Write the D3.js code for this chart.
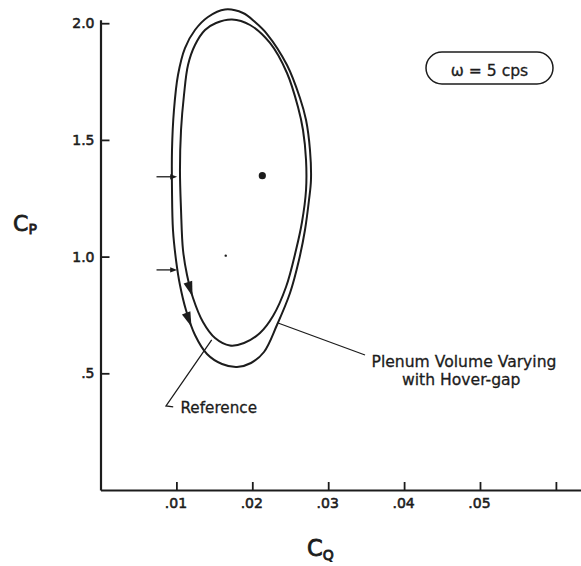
<!DOCTYPE html>
<html>
<head>
<meta charset="utf-8">
<script src="https://cdn.jsdelivr.net/npm/d3@7"></script>
<style>
  html, body { margin: 0; padding: 0; background: #fff; }
  svg { display: block; }
  text { font-family: "DejaVu Sans", "Liberation Sans", sans-serif; fill: #1c1c1c; }
</style>
</head>
<body>
<svg id="chart" width="581" height="566"></svg>
<script>
// Pressure coefficient C_P versus flow coefficient C_Q over one oscillation cycle.
// Loop traced with the plenum volume varying with hover-gap.
const plenumLoop = [
  [0.01877, 2.0437], [0.01640, 2.0587], [0.01416, 2.0266], [0.01245, 1.9709],
  [0.01113, 1.8937], [0.01021, 1.7781], [0.00968, 1.6281], [0.00942, 1.4567],
  [0.00942, 1.2853], [0.00955, 1.1140], [0.00995, 0.9854], [0.01047, 0.8783],
  [0.01126, 0.7712], [0.01245, 0.6641], [0.01403, 0.5827], [0.01601, 0.5398],
  [0.01798, 0.5270], [0.01983, 0.5441], [0.02154, 0.5913], [0.02325, 0.7069],
  [0.02497, 0.8440], [0.02615, 0.9854], [0.02694, 1.1140], [0.02747, 1.2425],
  [0.02773, 1.3282], [0.02760, 1.4567], [0.02708, 1.5853], [0.02628, 1.6795],
  [0.02457, 1.8209], [0.02194, 1.9537], [0.02036, 2.0051]
];

// Reference loop.
const referenceLoop = [
  [0.01733, 2.0159], [0.01522, 2.0009], [0.01377, 1.9709], [0.01245, 1.9066],
  [0.01153, 1.8209], [0.01100, 1.6924], [0.01061, 1.5424], [0.01047, 1.3710],
  [0.01061, 1.1997], [0.01087, 1.0283], [0.01140, 0.9212], [0.01219, 0.8226],
  [0.01350, 0.7198], [0.01509, 0.6512], [0.01706, 0.6191], [0.01891, 0.6298],
  [0.02101, 0.6727], [0.02273, 0.7455], [0.02444, 0.8697], [0.02576, 1.0283],
  [0.02655, 1.1482], [0.02708, 1.2853], [0.02708, 1.4139], [0.02668, 1.5424],
  [0.02602, 1.6410], [0.02457, 1.7866], [0.02233, 1.9152], [0.01970, 1.9923]
];

// C_P levels where the direction-of-travel arrowheads sit on each loop.
const loopArrowCp = [0.83, 0.70];   // reference, plenum

// Short pointer arrows marking two instants on the loop: [C_P, C_Q start, C_Q end]
const pointerArrows = [
  [1.342, 0.00738, 0.01010],
  [0.943, 0.00738, 0.01010]
];

// Steady-state points: [C_Q, C_P, radius]
const steadyPoints = [
  [0.02132, 1.3466, 3.6],
  [0.01650, 1.0040, 1.2]
];

const xTicks = [0.01, 0.02, 0.03, 0.04, 0.05, 0.06];
const xTickLabels = [".01", ".02", ".03", ".04", ".05", ""];
const yTicks = [0.5, 1.0, 1.5, 2.0];
const yTickLabels = [".5", "1.0", "1.5", "2.0"];

const ink = "#1c1c1c";
const svg = d3.select("#chart");

const x = d3.scaleLinear().domain([0, 0.0634]).range([100.5, 581.7]);
const y = d3.scaleLinear().domain([0, 2.015]).range([490, 19.7]);

// Axes: ticks point into the plot area
const xAxis = d3.axisBottom(x)
  .tickValues(xTicks)
  .tickFormat((d, i) => xTickLabels[i])
  .tickSizeInner(-8).tickSizeOuter(0).tickPadding(8);
const yAxis = d3.axisLeft(y)
  .tickValues(yTicks)
  .tickFormat((d, i) => yTickLabels[i])
  .tickSizeInner(-9).tickSizeOuter(0).tickPadding(6);

const gx = svg.append("g").attr("transform", "translate(0,490)").call(xAxis);
const gy = svg.append("g").attr("transform", "translate(100.5,0)").call(yAxis);

[gx, gy].forEach(g => {
  g.select(".domain").attr("stroke", ink).attr("stroke-width", 2.2);
  g.selectAll(".tick line").attr("stroke", ink).attr("stroke-width", 1.8);
  g.selectAll(".tick text")
    .attr("fill", ink)
    .attr("stroke", ink).attr("stroke-width", 0.55)
    .style("font-family", "'DejaVu Sans', sans-serif")
    .style("font-size", "14px");
});
gx.selectAll(".tick text").attr("dx", "-1");

// Loops
const line = d3.line()
  .x(d => x(d[0])).y(d => y(d[1]))
  .curve(d3.curveCatmullRomClosed.alpha(0.5));

const loops = [referenceLoop, plenumLoop];
const loopPaths = loops.map(data =>
  svg.append("path")
    .attr("d", line(data))
    .attr("fill", "none")
    .attr("stroke", ink)
    .attr("stroke-width", 2)
    .node()
);

// Arrowheads on the descending (left) branch of each loop
loopPaths.forEach((node, i) => {
  const total = node.getTotalLength();
  const targetY = y(loopArrowCp[i]);
  const cx = x(0.018);
  let best = null;
  for (let l = 0; l < total; l += 0.5) {
    const p = node.getPointAtLength(l);
    if (p.x > cx) continue;
    const err = Math.abs(p.y - targetY);
    if (!best || err < best.err) best = { l, err, p };
  }
  const p0 = node.getPointAtLength(Math.max(0, best.l - 2));
  const p1 = node.getPointAtLength(Math.min(total, best.l + 2));
  let dx = p1.x - p0.x, dy = p1.y - p0.y;
  const len = Math.hypot(dx, dy);
  dx /= len; dy /= len;
  const tip = best.p, L = 15, W = 4.5;
  const bx = tip.x - dx * L, by = tip.y - dy * L;
  svg.append("path")
    .attr("d", `M${tip.x},${tip.y}L${bx - dy * W},${by + dx * W}L${bx + dy * W},${by - dx * W}Z`)
    .attr("fill", ink);
});

// Pointer arrows
pointerArrows.forEach(([cp, q0, q1]) => {
  const yy = y(cp), x0 = x(q0), x1 = x(q1);
  svg.append("line")
    .attr("x1", x0).attr("y1", yy).attr("x2", x1 - 3).attr("y2", yy)
    .attr("stroke", ink).attr("stroke-width", 1.3);
  svg.append("path")
    .attr("d", `M${x1},${yy}L${x1 - 7},${yy - 2.6}L${x1 - 7},${yy + 2.6}Z`)
    .attr("fill", ink);
});

// Steady-state points
svg.selectAll("circle.pt").data(steadyPoints).enter().append("circle")
  .attr("class", "pt")
  .attr("cx", d => x(d[0])).attr("cy", d => y(d[1])).attr("r", d => d[2])
  .attr("fill", ink);

// Leader lines
const plenumLeader = [[0.02339, 0.7155], [0.03485, 0.5784]];
const referenceLeader = [[0.01465, 0.6427], [0.00863, 0.3599], [0.00958, 0.3560]];
const straight = d3.line().x(d => x(d[0])).y(d => y(d[1]));
[plenumLeader, referenceLeader].forEach(pts =>
  svg.append("path").attr("d", straight(pts))
    .attr("fill", "none").attr("stroke", ink).attr("stroke-width", 1.3)
);

// Annotations
const note = (tx, ty, size, str) =>
  svg.append("text").attr("x", tx).attr("y", ty)
    .style("font-size", size + "px")
    .attr("stroke", ink).attr("stroke-width", 0.3)
    .text(str);
note(371.5, 367, 15.6, "Plenum Volume Varying");
note(402, 385, 15.6, "with Hover-gap");
note(180.5, 412.5, 15.2, "Reference");

// Frequency box
svg.append("rect")
  .attr("x", 426).attr("y", 52).attr("width", 127).attr("height", 32)
  .attr("rx", 16).attr("ry", 16)
  .attr("fill", "none").attr("stroke", ink).attr("stroke-width", 1.5);
svg.append("text").attr("x", 489.5).attr("y", 75.5).attr("text-anchor", "middle")
  .attr("stroke", ink).attr("stroke-width", 0.3)
  .style("font-size", "15.6px").text("ω = 5 cps");

// Axis titles
const cp = svg.append("text").attr("x", 13).attr("y", 231)
  .attr("stroke", ink).attr("stroke-width", 0.8)
  .style("font-size", "22px");
cp.append("tspan").text("C");
cp.append("tspan").attr("dy", 3).style("font-size", "14px").text("P");

const cq = svg.append("text").attr("x", 307).attr("y", 556)
  .attr("stroke", ink).attr("stroke-width", 0.8)
  .style("font-size", "22.5px");
cq.append("tspan").text("C");
cq.append("tspan").attr("dy", 4).style("font-size", "14px").text("Q");
</script>
</body>
</html>
